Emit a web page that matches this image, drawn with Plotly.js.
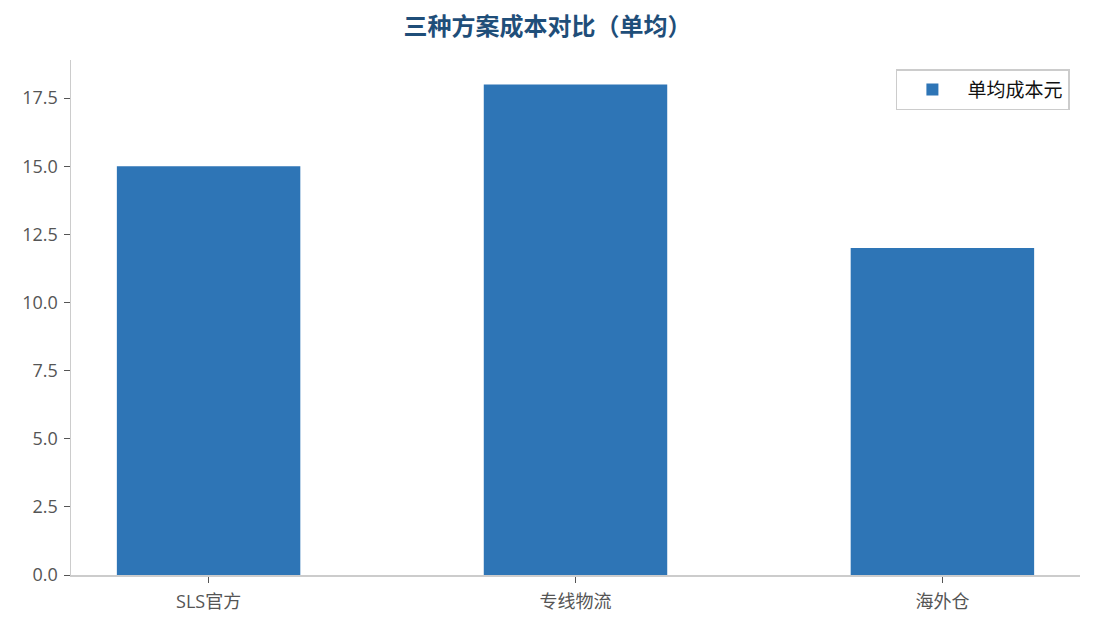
<!DOCTYPE html>
<html>
<head>
<meta charset="utf-8">
<script src="https://cdn.plot.ly/plotly-3.0.1.min.js"></script>
<style>
	html, body { margin: 0; padding: 0; background: #fff; }
	#chart { width: 1095px; height: 629px; }
</style>
</head>
<body>
<div id="chart"></div>
<script>
// --- DATA ---
const categories = ['SLS官方', '专线物流', '海外仓'];
const unitCost = [15, 18, 12];
const seriesName = '单均成本元';
const yTicks = [0, 2.5, 5, 7.5, 10, 12.5, 15, 17.5];
const yTickText = ['0.0', '2.5', '5.0', '7.5', '10.0', '12.5', '15.0', '17.5'];

const FONT = '"Open Sans", "Noto Sans CJK SC", sans-serif';

const trace = {
	type: 'bar',
	x: categories,
	y: unitCost,
	name: seriesName,
	width: 0.5,
	marker: { color: '#2e75b6' },
	showlegend: true,
	hoverinfo: 'x+y'
};

const layout = {
	width: 1095,
	height: 629,
	paper_bgcolor: '#fff',
	plot_bgcolor: '#fff',
	font: { family: FONT, color: '#555', size: 18 },
	margin: { t: 60, l: 71, r: 15, b: 54 },
	title: {
		text: '<b>三种方案成本对比（单均）</b>',
		font: { family: '"Noto Sans CJK SC", sans-serif', size: 24, color: '#1f4e79' },
		x: 0.5,
		xanchor: 'center',
		y: 0.957,
		yanchor: 'middle'
	},
	xaxis: {
		type: 'category',
		range: [-0.375, 2.375],
		showline: true,
		linecolor: '#cccccc',
		linewidth: 1.5,
		ticks: 'outside',
		ticklen: 6,
		tickcolor: '#555',
		tickfont: { size: 18, color: '#555' },
		ticklabelstandoff: 4,
		showgrid: false,
		zeroline: false
	},
	yaxis: {
		range: [0, 18.9],
		tickvals: yTicks,
		ticktext: yTickText,
		showline: true,
		linecolor: '#cccccc',
		linewidth: 1.5,
		ticks: 'outside',
		ticklen: 6,
		tickcolor: '#555',
		tickfont: { size: 18, color: '#555' },
		ticklabelstandoff: 2,
		showgrid: false,
		zeroline: false
	},
	legend: {
		x: 0.99,
		y: 0.982,
		xanchor: 'right',
		yanchor: 'top',
		bgcolor: '#fff',
		bordercolor: '#cccccc',
		borderwidth: 1.5,
		itemwidth: 60,
		font: { size: 19, color: '#111' }
	},
	bargap: 0.5
};

Plotly.newPlot('chart', [trace], layout, { displayModeBar: false, staticPlot: true });
</script>
</body>
</html>
